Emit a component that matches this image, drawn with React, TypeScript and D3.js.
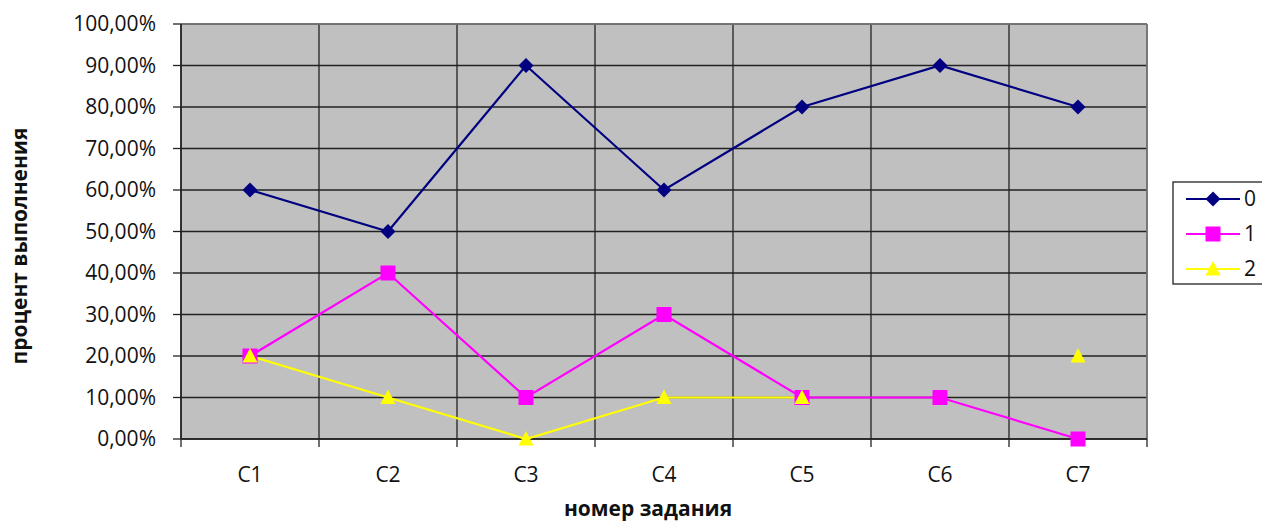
import React from "react";
import * as d3 from "d3";

const categories = ["C1", "C2", "C3", "C4", "C5", "C6", "C7"];
const series0 = [0.6, 0.5, 0.9, 0.6, 0.8, 0.9, 0.8];
const series1 = [0.2, 0.4, 0.1, 0.3, 0.1, 0.1, 0.0];
const series2: (number | null)[] = [0.2, 0.1, 0.0, 0.1, 0.1, null, 0.2];
const seriesNames = ["0", "1", "2"];
const seriesColors = ["#000080", "#FF00FF", "#FFFF00"];
const yTicks = [0, 0.1, 0.2, 0.3, 0.4, 0.5, 0.6, 0.7, 0.8, 0.9, 1.0];

const W = 1262, H = 522;
const plot = { left: 181, right: 1147, top: 24, bottom: 439 };
const font = "'Open Sans', 'Liberation Sans', sans-serif";
const fs = 21;

function marker(i: number, x: number, y: number, key: string) {
  const c = seriesColors[i];
  if (i === 0) {
    const s = 7.5;
    return <path key={key} d={`M${x},${y - s}L${x + s},${y}L${x},${y + s}L${x - s},${y}Z`} fill={c} />;
  }
  if (i === 1) {
    return <rect key={key} x={x - 7.5} y={y - 7.5} width={15} height={15} fill={c} />;
  }
  return <path key={key} d={`M${x},${y - 8}L${x + 7.5},${y + 6.5}L${x - 7.5},${y + 6.5}Z`} fill={c} />;
}

export default function App() {
  const x = d3.scaleBand().domain(categories).range([plot.left, plot.right]);
  const y = d3.scaleLinear().domain([0, 1]).range([plot.bottom, plot.top]);
  const all = [series0, series1, series2] as (number | null)[][];
  const line = d3
    .line<number | null>()
    .defined((d) => d !== null)
    .x((_, i) => x(categories[i])! + x.bandwidth() / 2)
    .y((d) => y(d as number));
  const fmt = (v: number) => (v * 100).toFixed(2).replace(".", ",") + "%";
  const bounds = categories.map((c) => x(c)!).concat([plot.right]);

  return (
    <svg width={W} height={H} style={{ position: "absolute", left: 0, top: 0, background: "#fff" }}>
      <rect x={plot.left} y={plot.top} width={plot.right - plot.left} height={plot.bottom - plot.top} fill="#C0C0C0" />
      {yTicks.map((t) => (
        <line key={"g" + t} x1={plot.left} x2={plot.right} y1={y(t)} y2={y(t)} stroke="#222" strokeWidth={1.3} />
      ))}
      {bounds.map((b, i) => (
        <line key={"v" + i} x1={b} x2={b} y1={plot.top} y2={plot.bottom} stroke="#222" strokeWidth={1.3} />
      ))}
      <line x1={plot.left} x2={plot.right} y1={plot.top} y2={plot.top} stroke="#808080" strokeWidth={1.5} />
      <line x1={plot.right} x2={plot.right} y1={plot.top} y2={plot.bottom} stroke="#808080" strokeWidth={1.5} />
      <line x1={plot.left} x2={plot.left} y1={plot.top} y2={plot.bottom} stroke="#222" strokeWidth={1.5} />
      <line x1={plot.left} x2={plot.right} y1={plot.bottom} y2={plot.bottom} stroke="#222" strokeWidth={1.5} />
      {yTicks.map((t) => (
        <g key={"yt" + t}>
          <line x1={plot.left - 8} x2={plot.left} y1={y(t)} y2={y(t)} stroke="#222" strokeWidth={1.3} />
          <text x={156} y={y(t)} dy="0.35em" textAnchor="end" fontFamily={font} fontSize={fs} fill="#111">
            {fmt(t)}
          </text>
        </g>
      ))}
      {bounds.map((b, i) => (
        <line key={"xt" + i} x1={b} x2={b} y1={plot.bottom} y2={plot.bottom + 8} stroke="#222" strokeWidth={1.3} />
      ))}
      {categories.map((c) => (
        <text key={"xl" + c} x={x(c)! + x.bandwidth() / 2} y={475} dy="0.35em" textAnchor="middle" fontFamily={font} fontSize={fs} fill="#111">
          {c}
        </text>
      ))}
      <text x={648} y={509} dy="0.35em" textAnchor="middle" fontFamily={font} fontSize={fs} fontWeight="bold" fill="#111">
        номер задания
      </text>
      <text transform={`translate(20,246) rotate(-90)`} dy="0.35em" textAnchor="middle" fontFamily={font} fontSize={fs} fontWeight="bold" fill="#111">
        процент выполнения
      </text>
      {all.map((s, i) => (
        <path key={"l" + i} d={line(s) || ""} fill="none" stroke={seriesColors[i]} strokeWidth={2.2} />
      ))}
      {all.map((s, i) =>
        s.map((v, j) =>
          v === null ? null : marker(i, x(categories[j])! + x.bandwidth() / 2, y(v), `m${i}-${j}`)
        )
      )}
      <rect x={1173} y={182} width={100} height={102} fill="#fff" stroke="#222" strokeWidth={1.3} />
      {seriesNames.map((n, i) => {
        const ly = 199 + i * 35;
        return (
          <g key={"lg" + n}>
            <line x1={1186} x2={1240} y1={ly} y2={ly} stroke={seriesColors[i]} strokeWidth={2.2} />
            {marker(i, 1213, ly, "lm" + i)}
            <text x={1244} y={ly} dy="0.35em" fontFamily={font} fontSize={fs} fill="#111">
              {n}
            </text>
          </g>
        );
      })}
    </svg>
  );
}
